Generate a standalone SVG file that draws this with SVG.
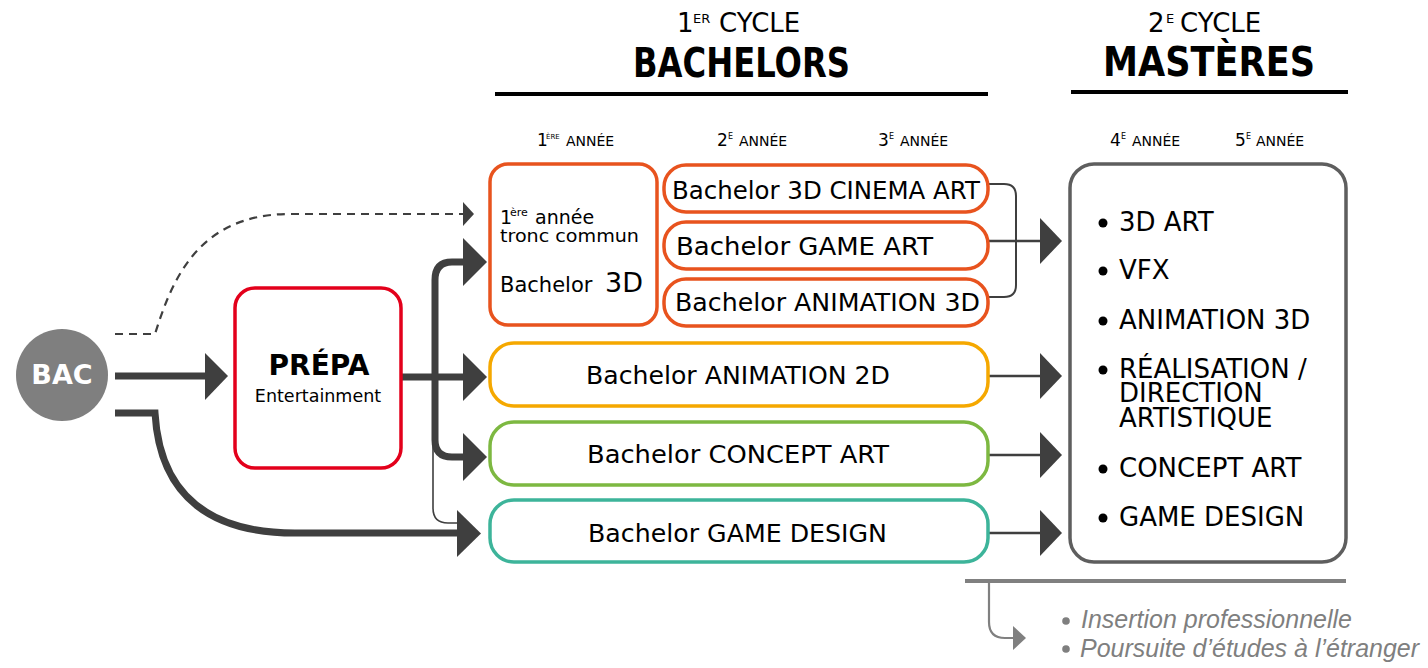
<svg xmlns="http://www.w3.org/2000/svg" width="1428" height="668" viewBox="0 0 1428 668">
<style>
text{font-family:"DejaVu Sans","Liberation Sans",sans-serif;fill:#000}
.hd{font-size:26px}
.tt{font-size:40px;font-weight:bold}
.yr{font-size:14px}
.pl{font-size:25px}
.ms{font-size:26px}
.box{fill:#fff}
.or{stroke:#E8531E;stroke-width:3.5}
.ln{fill:none;stroke:#3f3f3f}
.ah{fill:#3f3f3f}
.gr{fill:none;stroke:#808080}
.it{font-family:"Liberation Sans",Arial,sans-serif;font-style:italic;font-size:25px;fill:#7f7f7f}
</style>
<rect width="1428" height="668" fill="#fff"/>

<g id="headers">
<text class="hd" y="32"><tspan x="677">1</tspan><tspan x="693" dy="-9" font-size="13">ER</tspan><tspan x="719" dy="9">CYCLE</tspan></text>
<text class="tt" x="633" y="77" textLength="217" lengthAdjust="spacingAndGlyphs">BACHELORS</text>
<line x1="495" y1="94" x2="988" y2="94" stroke="#000" stroke-width="4"/>
<text class="hd" y="32"><tspan x="1148">2</tspan><tspan x="1166" dy="-9" font-size="13">E</tspan><tspan x="1180" dy="9">CYCLE</tspan></text>
<text class="tt" x="1103" y="76" textLength="212" lengthAdjust="spacingAndGlyphs">MASTÈRES</text>
<line x1="1071" y1="92" x2="1348" y2="92" stroke="#000" stroke-width="4"/>
<text class="yr" y="146"><tspan x="537" font-size="17">1</tspan><tspan x="546" dy="-7" font-size="7">ÈRE</tspan><tspan x="566" dy="7">ANNÉE</tspan></text>
<text class="yr" y="146"><tspan x="717" font-size="17">2</tspan><tspan x="728" dy="-7" font-size="8">E</tspan><tspan x="739" dy="7">ANNÉE</tspan></text>
<text class="yr" y="146"><tspan x="878" font-size="17">3</tspan><tspan x="889" dy="-7" font-size="8">E</tspan><tspan x="900" dy="7">ANNÉE</tspan></text>
<text class="yr" y="146"><tspan x="1110" font-size="17">4</tspan><tspan x="1121" dy="-7" font-size="8">E</tspan><tspan x="1132" dy="7">ANNÉE</tspan></text>
<text class="yr" y="146"><tspan x="1235" font-size="17">5</tspan><tspan x="1246" dy="-7" font-size="8">E</tspan><tspan x="1256" dy="7">ANNÉE</tspan></text>
</g>

<g id="connectors">
<path class="ln" d="M115,334 H155 C172,280 198,214 290,214 H463" stroke-width="2.2" stroke-dasharray="8 6"/>
<polygon class="ah" points="463,202 474,214 463,226"/>
<path class="ln" d="M115,376 H207" stroke-width="7"/>
<polygon class="ah" points="205,353 228,376 205,400"/>
<path class="ln" d="M115,413 H155 C160,500 215,533 295,533 H460" stroke-width="7"/>
<polygon class="ah" points="457,510 481,533.5 457,557"/>
<path class="ln" d="M402,377 H465" stroke-width="7"/>
<polygon class="ah" points="463,353 487,377 463,401"/>
<path class="ln" d="M465,262 H452 Q435,262 435,280 V440 Q435,457 452,457 H465" stroke-width="7"/>
<polygon class="ah" points="463,238 487,262 463,286"/>
<polygon class="ah" points="463,433 487,457 463,481"/>
<path class="ln" d="M433,440 V508 Q433,523 448,523 H460" stroke-width="1.6"/>
<path class="ln" d="M989,184 H1004 Q1016,184 1016,196 V285 Q1016,297 1004,297 H989" stroke-width="2"/>
<path class="ln" d="M989,241 H1042" stroke-width="2.5"/>
<polygon class="ah" points="1040,218 1062,241 1040,264"/>
<path class="ln" d="M989,376 H1042" stroke-width="2.5"/>
<polygon class="ah" points="1040,353 1062,376 1040,399"/>
<path class="ln" d="M989,455 H1042" stroke-width="2.5"/>
<polygon class="ah" points="1040,432 1062,455 1040,478"/>
<path class="ln" d="M989,533 H1042" stroke-width="2.5"/>
<polygon class="ah" points="1040,510 1062,533 1040,556"/>
<path class="gr" d="M965,581 H1346" stroke-width="4"/>
<path class="gr" d="M989,581 V622 Q989,638 1005,638 H1015" stroke-width="2.2"/>
<polygon fill="#808080" points="1013,626 1026,638 1013,650"/>
</g>

<g id="bac">
<circle cx="62" cy="375" r="46" fill="#7f7f7f"/>
<text x="62" y="384" text-anchor="middle" font-size="27" font-weight="bold" style="fill:#fff">BAC</text>
</g>

<g id="prepa">
<rect x="235" y="288" width="166" height="180" rx="20" class="box" stroke="#E3001B" stroke-width="3.5"/>
<text x="319" y="375" text-anchor="middle" font-size="28" font-weight="bold">PRÉPA</text>
<text x="318" y="402" text-anchor="middle" font-size="17.5">Entertainment</text>
</g>

<g id="tronc-commun">
<rect x="490" y="164" width="167" height="161" rx="18" class="box or"/>
<text y="224" font-size="19"><tspan x="500">1</tspan><tspan x="510" dy="-8" font-size="11">ère</tspan><tspan x="535" dy="8">année</tspan></text>
<text x="500" y="242" font-size="18.5" textLength="139" lengthAdjust="spacingAndGlyphs">tronc commun</text>
<text x="500" y="292" font-size="21">Bachelor</text>
<text x="605" y="292" font-size="27">3D</text>
</g>

<g id="cinema">
<rect x="664" y="165" width="324" height="47" rx="22" class="box or"/>
<text class="pl" x="672" y="199" textLength="308" lengthAdjust="spacingAndGlyphs">Bachelor 3D CINEMA ART</text>
</g>
<g id="game-art">
<rect x="664" y="222" width="324" height="47" rx="22" class="box or"/>
<text class="pl" x="676" y="255" textLength="257" lengthAdjust="spacingAndGlyphs">Bachelor GAME ART</text>
</g>
<g id="animation-3d">
<rect x="664" y="279" width="324" height="47" rx="22" class="box or"/>
<text class="pl" x="675" y="311" textLength="305" lengthAdjust="spacingAndGlyphs">Bachelor ANIMATION 3D</text>
</g>

<g id="animation-2d">
<rect x="490" y="343" width="498" height="63" rx="24" class="box" stroke="#F5A800" stroke-width="3.5"/>
<text class="pl" x="586" y="384" textLength="304" lengthAdjust="spacingAndGlyphs">Bachelor ANIMATION 2D</text>
</g>
<g id="concept-art">
<rect x="490" y="422" width="498" height="63" rx="24" class="box" stroke="#7DB841" stroke-width="3.5"/>
<text class="pl" x="587" y="463" textLength="302" lengthAdjust="spacingAndGlyphs">Bachelor CONCEPT ART</text>
</g>
<g id="game-design">
<rect x="490" y="500" width="498" height="62" rx="24" class="box" stroke="#3DB49A" stroke-width="3.5"/>
<text class="pl" x="588" y="542" textLength="299" lengthAdjust="spacingAndGlyphs">Bachelor GAME DESIGN</text>
</g>

<g id="masteres">
<rect x="1070" y="164" width="276" height="398" rx="24" class="box" stroke="#5e5e5e" stroke-width="3.5"/>
<g fill="#000">
<circle cx="1103" cy="223" r="4.5"/>
<circle cx="1103" cy="271" r="4.5"/>
<circle cx="1103" cy="321" r="4.5"/>
<circle cx="1103" cy="370" r="4.5"/>
<circle cx="1103" cy="469" r="4.5"/>
<circle cx="1103" cy="518" r="4.5"/>
</g>
<text class="ms" x="1119" y="231">3D ART</text>
<text class="ms" x="1119" y="279">VFX</text>
<text class="ms" x="1119" y="329">ANIMATION 3D</text>
<text class="ms" x="1119" y="378">RÉALISATION /</text>
<text class="ms" x="1119" y="402">DIRECTION</text>
<text class="ms" x="1119" y="427">ARTISTIQUE</text>
<text class="ms" x="1119" y="477">CONCEPT ART</text>
<text class="ms" x="1119" y="526">GAME DESIGN</text>
</g>

<g id="debouches">
<circle cx="1066" cy="621" r="3.8" fill="#7f7f7f"/>
<circle cx="1066" cy="649" r="3.8" fill="#7f7f7f"/>
<text class="it" x="1081" y="628">Insertion professionnelle</text>
<text class="it" x="1080" y="657">Poursuite d’études à l’étranger</text>
</g>
</svg>
